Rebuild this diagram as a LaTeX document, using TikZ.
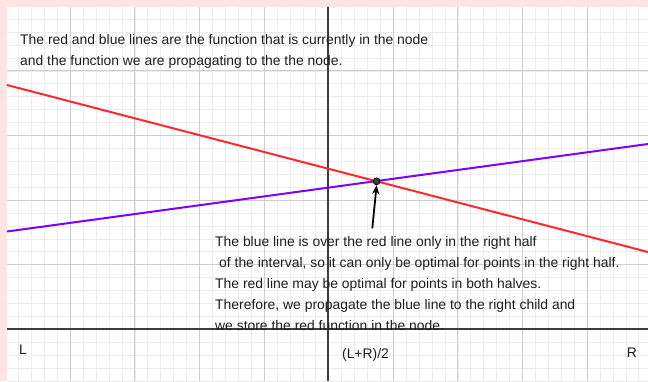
\documentclass[tikz,border=0pt]{standalone}
\usepackage{fontspec}
\setmainfont{Liberation Sans}
\usetikzlibrary{arrows.meta}
\definecolor{bgpink}{RGB}{255,228,228}
\definecolor{gridmajor}{RGB}{205,205,205}
\definecolor{gridminor}{RGB}{236,236,236}
\definecolor{axiscol}{RGB}{60,60,60}
\definecolor{redline}{RGB}{255,40,48}
\definecolor{blueline}{RGB}{128,0,255}
\definecolor{txt}{RGB}{30,30,30}
\tikzset{
  minorgrid/.style={draw=gridminor, line width=0.7pt},
  majorgrid/.style={draw=gridmajor, line width=1pt},
  axisline/.style={draw=axiscol, line width=1.9pt},
  fnline/.style={line width=2pt},
  txtline/.style={anchor=base west, inner sep=0pt, text=txt, font=\fontsize{13.9}{21}\selectfont},
  axlabel/.style={anchor=base, inner sep=0pt, text=txt, font=\fontsize{13.9}{21}\selectfont},
}
\begin{document}
\begin{tikzpicture}[x=1pt,y=-1pt]
\useasboundingbox (0,0) rectangle (648,381);
\fill[bgpink] (0,0) rectangle (648,381);
\fill[white] (7,7) rectangle (648,381);
\begin{scope}
\clip (7,7) rectangle (648,381);
\foreach \i in {0,...,50} {
  \draw[minorgrid] ({5.7+12.92*\i},0) -- ({5.7+12.92*\i},381);
}
\foreach \i in {0,...,30} {
  \draw[minorgrid] (0,{6.3+12.92*\i}) -- (648,{6.3+12.92*\i});
}
\foreach \i in {0,...,10} {
  \draw[majorgrid] ({5.7+64.6*\i},0) -- ({5.7+64.6*\i},381);
}
\foreach \i in {0,...,6} {
  \draw[majorgrid] (0,{6.3+64.6*\i}) -- (648,{6.3+64.6*\i});
}
\end{scope}
% axes
\coordinate (ytop) at (328.3,7);
\coordinate (ybot) at (328.3,381);
\coordinate (xleft) at (7,328.8);
\coordinate (xright) at (648,328.8);
\draw[axisline] (ytop) -- (ybot);
\draw[axisline] (xleft) -- (xright);
% function lines
\coordinate (r1) at (7,85);
\coordinate (r2) at (648,252);
\coordinate (b1) at (7,231.5);
\coordinate (b2) at (648,144);
\draw[fnline, redline] (r1) -- (r2);
\draw[fnline, blueline] (b1) -- (b2);
% intersection dot
\node[circle, fill=axiscol, draw=black, line width=0.6pt, minimum size=7pt, inner sep=0pt] (dot) at (376.6,181.3) {};
\coordinate (arrstart) at (372.3,228.3);
\draw[line width=1.8pt, black, -{Stealth[length=9pt,width=7pt]}] (arrstart) -- (dot.south);
% texts
\node[txtline] (t1) at (20,44) {The red and blue lines are the function that is currently in the node};
\node[txtline] (t2) at (20,65) {and the function we are propagating to the the node.};
\node[txtline] (b1t) at (215,246) {The blue line is over the red line only in the right half};
\node[txtline] (b2t) at (219,267) {of the interval, so it can only be optimal for points in the right half.};
\node[txtline] (b3t) at (215,288) {The red line may be optimal for points in both halves.};
\node[txtline] (b4t) at (215,309) {Therefore, we propagate the blue line to the right child and};
\node[txtline] (b5t) at (215,330) {we store the red function in the node.};
% axis labels
\node[axlabel] (lL) at (23,354) {L};
\node[axlabel] (lM) at (365.5,358.5) {(L+R)/2};
\node[axlabel] (lR) at (632,357) {R};
\end{tikzpicture}
\end{document}
